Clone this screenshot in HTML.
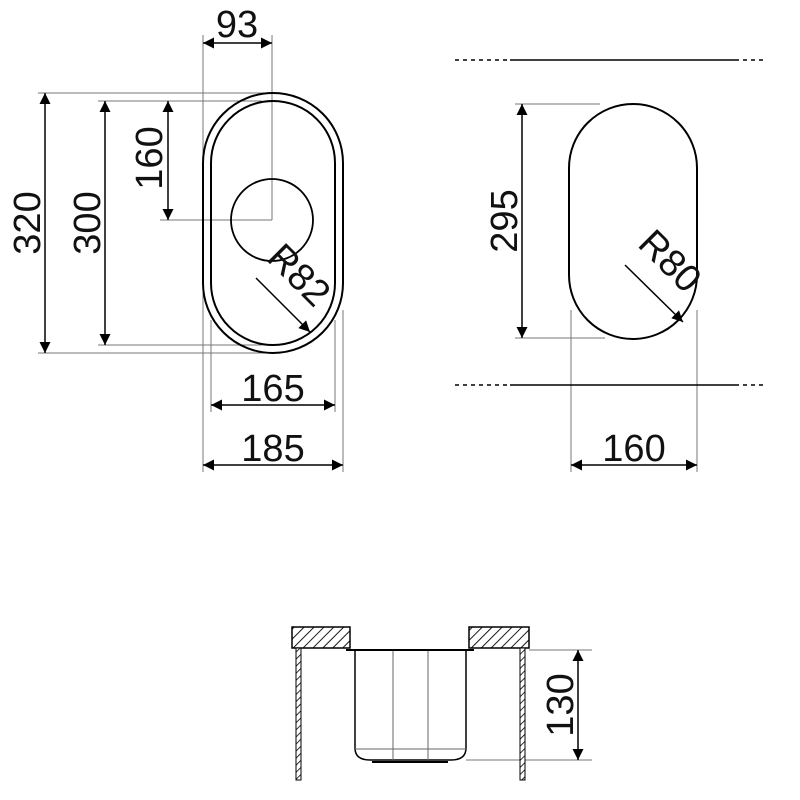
<!DOCTYPE html>
<html><head><style>body{margin:0;background:#fff}svg{display:block}text{font-family:"Liberation Sans",sans-serif;font-size:38px;fill:#111}</style></head><body>
<svg width="800" height="800" viewBox="0 0 800 800">
<defs>
<marker id="a" viewBox="0 0 10 10" refX="10" refY="5" markerWidth="16" markerHeight="11" markerUnits="userSpaceOnUse" orient="auto-start-reverse"><path d="M0,0L10,5L0,10z" fill="#000"/></marker>
<pattern id="h" width="7" height="7" patternUnits="userSpaceOnUse" patternTransform="rotate(45)"><rect width="7" height="7" fill="#fff"/><line x1="0" y1="0" x2="0" y2="7" stroke="#000" stroke-width="1.8"/></pattern>
<pattern id="h2" width="5" height="5" patternUnits="userSpaceOnUse" patternTransform="rotate(45)"><rect width="5" height="5" fill="#fff"/><line x1="0" y1="0" x2="0" y2="5" stroke="#000" stroke-width="1.6"/></pattern>
</defs>
<g stroke="#777" stroke-width="1" fill="none">
<line x1="38" y1="93" x2="272" y2="93"/><line x1="38" y1="353" x2="272" y2="353"/>
<line x1="98" y1="101" x2="262" y2="101"/><line x1="98" y1="345" x2="262" y2="345"/>
<line x1="160" y1="220" x2="272" y2="220"/>
<line x1="203" y1="35" x2="203" y2="472"/><line x1="272" y1="35" x2="272" y2="220"/>
<line x1="343" y1="310" x2="343" y2="472"/><line x1="211" y1="320" x2="211" y2="412"/><line x1="335" y1="320" x2="335" y2="412"/>
<line x1="515" y1="104" x2="600" y2="104"/><line x1="515" y1="338" x2="605" y2="338"/>
<line x1="571" y1="310" x2="571" y2="472"/><line x1="697" y1="310" x2="697" y2="472"/>
<line x1="529" y1="650" x2="592" y2="650"/><line x1="466" y1="760" x2="592" y2="760"/>
</g>
<g stroke="#000" stroke-width="1.5" fill="none">
<line x1="45" y1="93" x2="45" y2="353" marker-start="url(#a)" marker-end="url(#a)"/>
<line x1="105" y1="101" x2="105" y2="345" marker-start="url(#a)" marker-end="url(#a)"/>
<line x1="168" y1="101" x2="168" y2="220" marker-start="url(#a)" marker-end="url(#a)"/>
<line x1="203" y1="43" x2="272" y2="43" marker-start="url(#a)" marker-end="url(#a)"/>
<line x1="211" y1="405" x2="335" y2="405" marker-start="url(#a)" marker-end="url(#a)"/>
<line x1="203" y1="465" x2="343" y2="465" marker-start="url(#a)" marker-end="url(#a)"/>
<line x1="522" y1="104" x2="522" y2="338" marker-start="url(#a)" marker-end="url(#a)"/>
<line x1="571" y1="465" x2="697" y2="465" marker-start="url(#a)" marker-end="url(#a)"/>
<line x1="578" y1="650" x2="578" y2="760" marker-start="url(#a)" marker-end="url(#a)"/>
<line x1="256" y1="278" x2="310" y2="332" marker-end="url(#a)"/>
<line x1="625" y1="265" x2="683" y2="322" marker-end="url(#a)"/>
<rect x="203" y="93" width="140" height="260" rx="70" stroke-width="2"/>
<rect x="211" y="101" width="124" height="244" rx="62" stroke-width="2"/>
<circle cx="272" cy="220" r="41" stroke-width="1.8"/>
<rect x="569" y="104" width="128" height="235" rx="64" stroke-width="2"/>
<line x1="455" y1="60" x2="510" y2="60" stroke-dasharray="4 4"/><line x1="510" y1="60" x2="735" y2="60"/><line x1="735" y1="60" x2="765" y2="60" stroke-dasharray="4 4"/>
<line x1="455" y1="385" x2="510" y2="385" stroke-dasharray="4 4"/><line x1="510" y1="385" x2="735" y2="385"/><line x1="735" y1="385" x2="765" y2="385" stroke-dasharray="4 4"/>
</g>
<rect x="292" y="627" width="58" height="21" fill="url(#h)" stroke="#000" stroke-width="1.5"/>
<rect x="469" y="627" width="60" height="21" fill="url(#h)" stroke="#000" stroke-width="1.5"/>
<rect x="296" y="648" width="5" height="132" fill="url(#h2)" stroke="#000" stroke-width="1"/>
<rect x="520" y="648" width="5" height="132" fill="url(#h2)" stroke="#000" stroke-width="1"/>
<g stroke="#000" fill="none">
<line x1="346" y1="650" x2="474" y2="650" stroke-width="2"/>
<path d="M355,651V748Q355,760 370,760H451Q466,760 466,748V651" stroke-width="1.5"/>
<line x1="355" y1="749" x2="466" y2="749" stroke="#666"/>
<line x1="393" y1="651" x2="393" y2="760" stroke="#666"/>
<line x1="428" y1="651" x2="428" y2="760" stroke="#666"/>
<line x1="372" y1="762" x2="448" y2="762" stroke-width="2"/>
</g>
<text x="237" y="37" text-anchor="middle">93</text>
<text transform="translate(40,223) rotate(-90)" text-anchor="middle" y="0">320</text>
<text transform="translate(100,223) rotate(-90)" text-anchor="middle" y="0">300</text>
<text transform="translate(162,158) rotate(-90)" text-anchor="middle" y="0">160</text>
<text transform="translate(290,284) rotate(45)" text-anchor="middle">R82</text>
<text x="273" y="401" text-anchor="middle">165</text>
<text x="273" y="461" text-anchor="middle">185</text>
<text transform="translate(517,221) rotate(-90)" text-anchor="middle" y="0">295</text>
<text transform="translate(661,270) rotate(45)" text-anchor="middle">R80</text>
<text x="634" y="461" text-anchor="middle">160</text>
<text transform="translate(573,705) rotate(-90)" text-anchor="middle" y="0">130</text>
</svg>
</body></html>
